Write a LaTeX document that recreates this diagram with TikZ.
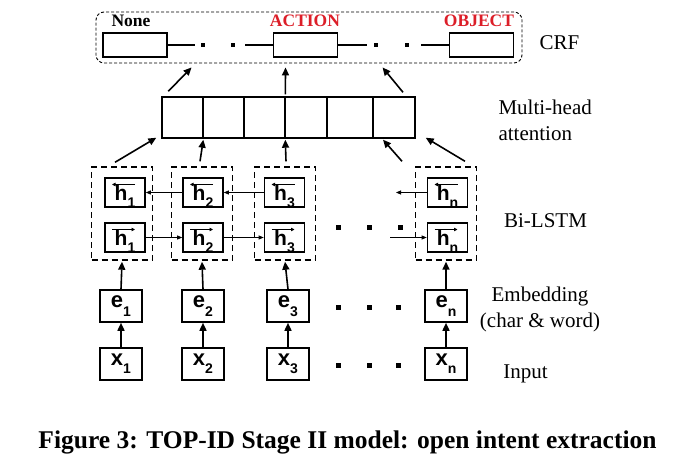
\documentclass[tikz,border=0pt]{standalone}
\usepackage{fontspec}
\setmainfont{Liberation Serif}
\newfontfamily\boxfont{Liberation Sans}
\usetikzlibrary{arrows.meta,calc}
\newcommand{\vlab}[2]{{\boxfont\bfseries\fontsize{22}{22}\selectfont #1\raisebox{-0.38em}{\fontsize{14}{14}\selectfont #2}}}
\newcommand{\hlab}[1]{{\boxfont\bfseries\fontsize{21}{21}\selectfont h\raisebox{-0.36em}{\fontsize{14}{14}\selectfont #1}}}
\begin{document}
\begin{tikzpicture}[x=1pt,y=-1pt,
  cell/.style={draw, line width=1.6pt, minimum width=42pt, minimum height=32pt, inner sep=0pt},
  hcell/.style={draw, line width=1.6pt, minimum width=40pt, minimum height=29pt, inner sep=0pt, text depth=0pt},
  lstm/.style={draw, dash pattern=on 6pt off 4pt, line width=1.4pt, minimum width=61pt, minimum height=93pt, inner sep=0pt},
  att/.style={draw, line width=1.4pt, minimum height=41pt, minimum width=#1, inner sep=0pt},
  crfbox/.style={draw, line width=1.6pt, minimum width=64pt, minimum height=24pt, inner sep=0pt},
  crfframe/.style={draw, dash pattern=on 3pt off 2pt, line width=0.9pt, rounded corners=8pt, minimum width=426pt, minimum height=51pt, inner sep=0pt},
  arr/.style={line width=1.6pt, -{Triangle[length=8pt,width=7pt]}},
  thinarr/.style={line width=0.8pt, -{Triangle[length=5pt,width=4pt]}},
  hbar/.style={line width=0.8pt, -{Triangle[length=3.5pt,width=3.5pt]}},
  chain/.style={line width=1.6pt},
  side/.style={font=\fontsize{21}{26}\selectfont},
  tag/.style={font=\bfseries\fontsize{17.5}{17.5}\selectfont, inner sep=0pt}
]
\useasboundingbox[fill=white] (0,0) rectangle (680,464);

% CRF
\node[crfframe] (crf) at (309,37.5) {};
\node[crfbox] (n1) at (135,45) {};
\node[crfbox] (n2) at (305.5,45) {};
\node[crfbox] (n3) at (481.5,45) {};
\node[tag] (t1) at (131,21) {None};
\node[tag, text={rgb,255:red,220;green,30;blue,40}] (t2) at (305,21) {ACTION};
\node[tag, text={rgb,255:red,220;green,30;blue,40}] (t3) at (479,21) {OBJECT};
\coordinate (c1) at (195,45);
\coordinate (c2) at (245,45);
\coordinate (c3) at (367,45);
\coordinate (c4) at (421,45);
\draw[chain] (n1.east) -- (c1);
\draw[chain] (c2) -- (n2.west);
\draw[chain] (n2.east) -- (c3);
\draw[chain] (c4) -- (n3.west);
\foreach \x in {203,233,376,407} \fill (\x-2,43) rectangle ++(4,4);

% attention
\node[att=41pt] (a1) at (182.5,117.5) {};
\node[att=41pt] (a2) at (223.5,117.5) {};
\node[att=41pt] (a3) at (264.5,117.5) {};
\node[att=42pt] (a4) at (306,117.5) {};
\node[att=46pt] (a5) at (350,117.5) {};
\node[att=42pt] (a6) at (394,117.5) {};

% arrows attention -> CRF
\draw[arr] ($(a1.north west)+(7,-5)$) -- ($(crf.south west)+(96,4)$);
\draw[arr] ($(a4.north west)+(1,-2)$) -- ($(crf.south west)+(190,4)$);
\draw[arr] ($(a6.north)+(9,-4)$) -- ($(crf.south west)+(287,4)$);

% Bi-LSTM
\foreach \i/\x in {1/122,2/202,3/285,4/446} {
  \node[lstm] (b\i) at (\x,213.5) {};
}
\foreach \i/\x/\s in {1/125/1,2/203/2,3/284.5/3,4/447.5/n} {
  \node[hcell] (u\i) at (\x,192.5) {\hlab{\s}};
  \node[hcell] (l\i) at (\x,237.5) {\hlab{\s}};
  \draw[hbar] ($(u\i.center)+(10,-8)$) -- ($(u\i.center)+(-13,-8)$);
  \draw[hbar] ($(l\i.center)+(-13,-8)$) -- ($(l\i.center)+(10,-8)$);
}
\coordinate (uf) at (396,192.5);
\coordinate (lf) at (390,237.5);
\draw[thinarr] (u3.west) -- (u2.east);
\draw[thinarr] (u2.west) -- (u1.east);
\draw[thinarr] (u4.west) -- (uf);
\draw[thinarr] (l1.east) -- (l2.west);
\draw[thinarr] (l2.east) -- (l3.west);
\draw[thinarr] (lf) -- (l4.west);
\foreach \x in {338,369,400} \fill (\x-2.5,224.5) rectangle ++(5,5);

% arrows Bi-LSTM -> attention
\draw[arr] ($(b1.north)+(-7,-4)$) -- ($(a1.south west)+(-5,-1)$);
\draw[arr] ($(b2.north)+(-2,-5)$) -- ($(a2.south west)+(1,1)$);
\draw[arr] ($(b3.north)+(1,-5)$) -- ($(a4.south west)+(1,1)$);
\draw[arr] ($(b4.north)+(-44,-5)$) -- ($(a6.south)+(-11,1)$);
\draw[arr] ($(b4.north)+(19,-5)$) -- ($(a6.south east)+(10,-1)$);

% embeddings and inputs
\foreach \i/\x/\s in {1/121/1,2/203/2,3/288/3,4/446/n} {
  \node[cell] (e\i) at (\x,306) {\vlab{e}{\s}};
  \node[cell] (x\i) at (\x,364) {\vlab{x}{\s}};
  \draw[arr] (e\i.north) -- ($(b\i.south)+(0,1)$);
  \draw[arr] (x\i.north) -- (e\i.south);
}
\foreach \x in {338,369,398} {
  \fill (\x-2.5,304.5) rectangle ++(5,5);
  \fill (\x-2.5,362.5) rectangle ++(5,5);
}

% side labels
\node[side] (lcrf) at (559.5,43) {CRF};
\node[side, align=left, anchor=west] (latt) at (495,120) {Multi-head\\attention};
\node[side] (lbi) at (545.5,221) {Bi-LSTM};
\node[side, align=center] (lemb) at (540,309) {Embedding\\(char \& word)};
\node[side] (lin) at (525.5,374) {Input};

% caption
\node[font=\bfseries\fontsize{25.5}{25.5}\selectfont, anchor=base] (cap) at (347.5,448) {Figure 3: TOP-ID Stage II model: open intent extraction};
\end{tikzpicture}
\end{document}
